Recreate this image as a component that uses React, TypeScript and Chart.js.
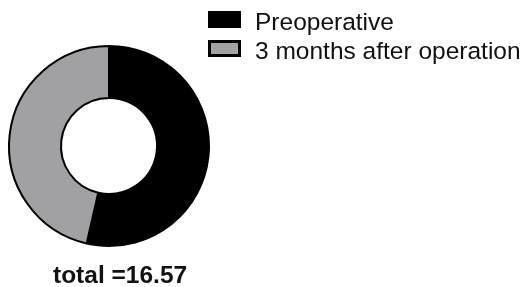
import React, { useEffect, useRef } from "react";
import { Chart, registerables } from "chart.js";

Chart.register(...registerables);

const categories: string[] = ["Preoperative", "3 months after operation"];
const seriesValues: number[] = [8.88, 7.69];
const seriesColors: string[] = ["#000000", "#a1a1a4"];
const totalLabel = "total =";

const overlayPlugin = {
  id: "overlay",
  afterDraw(chart: any) {
    const ctx = chart.ctx as CanvasRenderingContext2D;
    const labels = chart.data.labels as string[];
    const ds = chart.data.datasets[0];
    ctx.save();
    // legend
    labels.forEach((lab, i) => {
      const y = 11 + i * 29;
      ctx.fillStyle = "#000";
      ctx.fillRect(208, y, 33, 17);
      ctx.fillStyle = (ds.backgroundColor as string[])[i];
      ctx.fillRect(211, y + 3, 27, 11);
      ctx.fillStyle = "#111";
      ctx.font = "24.5px 'Liberation Sans', Arial, sans-serif";
      ctx.textBaseline = "alphabetic";
      ctx.textAlign = "left";
      ctx.fillText(lab, 255, y + 19);
    });
    // total
    const total = (ds.data as number[]).reduce((a, b) => a + b, 0);
    ctx.font = "bold 24.5px 'Liberation Sans', Arial, sans-serif";
    ctx.fillStyle = "#111";
    ctx.fillText(totalLabel + total.toFixed(2), 53, 283);
    ctx.restore();
  },
};

export default function App() {
  const ref = useRef<HTMLCanvasElement | null>(null);
  useEffect(() => {
    document.body.style.margin = "0";
    const chart = new Chart(ref.current as HTMLCanvasElement, {
      type: "doughnut",
      data: {
        labels: categories,
        datasets: [
          {
            data: seriesValues,
            backgroundColor: seriesColors,
            borderColor: "#000000",
            borderWidth: 2,
          },
        ],
      },
      options: {
        responsive: false,
        animation: false,
        cutout: "48%",
        layout: { padding: { left: 8, top: 44, right: 321, bottom: 39 } },
        plugins: { legend: { display: false }, tooltip: { enabled: false } },
      },
      plugins: [overlayPlugin],
    });
    return () => chart.destroy();
  }, []);
  return (
    <div style={{ width: 531, height: 287, background: "#fff" }}>
      <canvas ref={ref} width={531} height={287} />
    </div>
  );
}
